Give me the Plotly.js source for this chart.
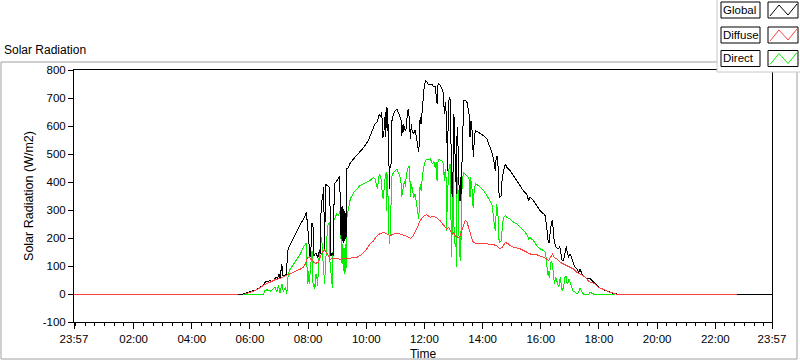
<!DOCTYPE html>
<html><head><meta charset="utf-8">
<script src="https://cdn.plot.ly/plotly-3.0.1.min.js"></script>
<style>html,body{margin:0;padding:0;background:#fff}#chart{width:800px;height:361px}
#chart .scatterlayer path.js-line{shape-rendering:crispEdges}</style>
</head><body><div id="chart"></div>
<script>
// time in minutes after midnight (-3 = 23:57 of the previous day), value in W/m2
const tickTimes = [-3,120,240,360,480,600,720,840,960,1080,1200,1320,1437];
const tickLabels = ['23:57','02:00','04:00','06:00','08:00','10:00','12:00','14:00','16:00','18:00','20:00','22:00','23:57'];
const yTickVals = [-100,0,100,200,300,400,500,600,700,800];
const yTickLabels = ['-100','0','100','200','300','400','500','600','700','800'];
const seriesNames = ['Global','Diffuse','Direct'];
const seriesColors = ['#000000','#ff4040','#00f000'];

const globalData = [[-3,0],[346,0],[360,8],[373,15],[387,32],[393,46],[397,44],[402,49],[406,44],[410,51],[414,59],[417,55],[420,71],[422,59],[426,107],[427,65],[430,65],[435,69],[438,155],[441,169],[457,226],[474,280],[476,291],[478,262],[480,205],[482,155],[484,133],[486,169],[488,255],[490,244],[492,137],[496,147],[500,130],[503,155],[505,144],[507,326],[510,344],[512,383],[514,155],[516,394],[519,387],[523,383],[525,333],[527,137],[530,147],[532,137],[534,394],[538,401],[542,412],[545,419],[547,280],[548,197],[550,315],[551,190],[552,305],[554,183],[555,297],[556,190],[558,290],[559,205],[560,447],[563,451],[567,469],[581,497],[594,522],[604,547],[611,577],[615,601],[618,608],[622,613],[627,643],[630,631],[632,649],[634,559],[636,565],[638,631],[639,559],[641,666],[643,583],[644,666],[646,476],[648,375],[649,452],[651,464],[653,619],[656,643],[660,655],[663,661],[666,649],[670,631],[672,619],[673,565],[676,607],[677,577],[678,601],[680,583],[682,589],[685,649],[687,661],[689,619],[691,553],[693,607],[694,589],[697,571],[701,586],[703,565],[706,518],[708,506],[710,559],[711,631],[713,607],[715,649],[717,690],[718,726],[720,750],[723,762],[726,756],[728,747],[732,750],[736,747],[739,740],[742,744],[746,680],[747,738],[749,752],[753,744],[756,732],[759,720],[761,644],[763,684],[765,643],[766,559],[768,440],[769,680],[772,702],[773,696],[775,512],[777,345],[779,440],[780,643],[781,631],[783,500],[786,357],[787,559],[788,595],[790,488],[792,333],[794,416],[795,333],[797,440],[799,595],[801,690],[804,693],[808,684],[811,655],[813,631],[814,559],[816,619],[818,589],[819,524],[821,488],[823,559],[825,583],[832,577],[842,565],[849,553],[856,524],[859,506],[863,476],[865,452],[866,440],[868,488],[870,494],[872,452],[873,369],[875,345],[878,351],[880,405],[883,440],[887,464],[890,452],[897,440],[904,422],[911,405],[918,387],[924,369],[931,357],[935,333],[937,345],[938,345],[945,333],[952,315],[959,297],[966,286],[969,280],[973,226],[975,190],[977,184],[980,226],[982,256],[984,262],[986,226],[988,184],[992,166],[997,161],[999,172],[1002,143],[1004,119],[1007,119],[1011,149],[1013,172],[1014,155],[1017,131],[1021,143],[1024,125],[1028,107],[1031,95],[1035,89],[1038,77],[1041,89],[1045,71],[1048,65],[1055,54],[1062,54],[1066,47],[1069,41],[1076,30],[1083,21],[1090,14],[1097,11],[1103,6],[1110,2],[1117,0],[1437,0]];

const diffuseData = [[-3,-2],[335,-2],[342,null],[350,0],[360,7],[373,14],[387,30],[402,42],[412,51],[422,56],[433,64],[443,74],[455,81],[464,89],[470,95],[474,107],[479,130],[482,133],[485,124],[488,126],[492,112],[496,110],[501,113],[505,133],[509,149],[514,157],[519,147],[522,137],[525,124],[536,128],[546,124],[556,126],[567,128],[581,131],[587,137],[594,147],[601,161],[608,179],[615,190],[622,208],[629,216],[636,220],[643,214],[649,208],[656,214],[663,218],[670,214],[677,211],[684,206],[691,199],[697,208],[704,232],[711,262],[718,277],[725,283],[732,274],[739,277],[746,271],[752,262],[759,247],[766,232],[770,238],[773,226],[777,214],[780,220],[783,208],[787,205],[790,202],[794,208],[797,226],[801,250],[804,264],[808,256],[811,238],[814,214],[818,196],[821,184],[825,181],[835,179],[849,179],[863,176],[869,172],[876,161],[880,166],[887,184],[893,179],[900,169],[911,164],[918,161],[925,155],[931,149],[938,143],[952,140],[962,133],[969,129],[976,119],[981,137],[984,143],[988,131],[993,125],[1000,113],[1007,107],[1014,101],[1021,95],[1028,89],[1035,77],[1041,71],[1048,65],[1055,54],[1059,44],[1066,41],[1072,36],[1079,24],[1086,18],[1093,12],[1103,6],[1114,1],[1120,-2],[1365,-2]];

const directData = [[346,0],[388,0],[391,12],[395,15],[402,10],[406,15],[412,24],[415,6],[419,30],[422,5],[426,36],[429,8],[433,24],[436,1],[439,71],[443,89],[450,107],[457,125],[464,143],[470,166],[474,179],[476,183],[477,131],[479,36],[481,83],[482,36],[484,72],[486,131],[488,155],[490,41],[491,24],[493,36],[494,19],[496,71],[498,59],[500,30],[501,107],[505,166],[507,190],[508,202],[510,137],[512,83],[514,36],[515,71],[517,155],[519,226],[520,244],[522,250],[524,256],[525,119],[527,65],[530,22],[531,83],[532,262],[536,274],[539,286],[543,280],[546,297],[548,190],[550,107],[551,179],[553,83],[554,166],[556,71],[557,179],[558,77],[560,274],[563,309],[567,339],[574,363],[581,375],[587,387],[594,393],[601,399],[608,405],[611,411],[615,416],[618,411],[622,387],[623,375],[625,405],[627,429],[630,416],[632,381],[634,345],[636,339],[637,393],[639,416],[641,434],[642,297],[644,429],[646,238],[648,179],[649,214],[651,345],[653,422],[656,434],[660,440],[663,446],[666,434],[670,416],[672,393],[673,345],[675,369],[677,387],[679,405],[681,381],[682,411],[685,446],[688,458],[690,416],[691,345],[693,393],[695,369],[698,345],[701,357],[703,333],[706,297],[708,268],[710,321],[711,393],[713,369],[715,416],[718,452],[722,476],[725,482],[728,479],[732,482],[737,464],[739,476],[742,452],[744,470],[746,405],[747,464],[749,479],[752,479],[756,476],[759,464],[761,405],[763,446],[765,405],[766,226],[767,345],[770,440],[771,458],[773,464],[774,250],[776,131],[777,226],[779,440],[780,405],[781,238],[783,179],[785,179],[786,95],[787,345],[788,416],[790,345],[792,131],[794,226],[795,119],[796,286],[798,405],[801,434],[804,429],[808,422],[811,416],[813,405],[814,345],[815,416],[818,381],[819,321],[821,309],[822,357],[825,393],[832,387],[842,369],[849,351],[856,333],[859,321],[861,297],[862,274],[864,250],[866,226],[868,309],[869,321],[872,274],[873,202],[875,184],[878,190],[880,226],[883,274],[887,280],[890,274],[897,268],[904,256],[911,250],[918,238],[924,226],[931,214],[935,196],[937,202],[938,202],[945,190],[952,172],[959,161],[966,155],[969,149],[971,131],[973,95],[975,65],[976,83],[978,59],[980,107],[982,119],[984,107],[986,59],[988,36],[991,59],[993,47],[997,24],[999,41],[1000,59],[1002,36],[1004,12],[1007,24],[1009,41],[1010,59],[1013,65],[1014,41],[1016,36],[1018,54],[1021,41],[1023,24],[1026,12],[1031,6],[1035,0],[1038,6],[1041,21],[1045,6],[1048,0],[1059,0],[1062,6],[1069,0],[1114,0]];

// ---- layout helpers (page pixels -> paper fractions) ----
const L = 74, R = 772, T = 70, B = 322;
const px = x => (x - L) / (R - L);
const py = y => (B - y) / (B - T);
const FONT = 'Liberation Sans, Arial, sans-serif';

function mk(data, name, color) {
  return {x: data.map(d => d[0]), y: data.map(d => d[1]), name, type: 'scatter', mode: 'lines',
    line: {color, width: 1}, connectgaps: false, hoverinfo: 'x+y'};
}
const traces = [
  mk(directData, seriesNames[2], seriesColors[2]),
  mk(globalData, seriesNames[0], seriesColors[0]),
  mk(diffuseData, seriesNames[1], seriesColors[1])
];

const shapes = [];
const annotations = [];
function line(x0, y0, x1, y1, color) {
  shapes.push({type: 'line', xref: 'paper', yref: 'paper', x0: px(x0), y0: py(y0), x1: px(x1), y1: py(y1),
    line: {color, width: 1}, layer: 'above'});
}
function rect(x0, y0, x1, y1, lineColor, fill) {
  shapes.push({type: 'rect', xref: 'paper', yref: 'paper', x0: px(x0), y0: py(y0), x1: px(x1), y1: py(y1),
    line: {color: lineColor, width: 1}, fillcolor: fill, layer: 'above'});
}
// outer panel frame
line(1, 62, 1, 359, '#a0a0a0');
line(1, 359, 797, 359, '#a0a0a0');
line(797, 359, 797, 72, '#a0a0a0');
line(1, 62, 717, 62, '#a0a0a0');
// legend panel
rect(717, -2, 802, 72, '#c8c8c8', '#ffffff');
const legendRows = [10, 35, 58.5];
seriesNames.forEach((name, i) => {
  const cy = legendRows[i];
  rect(721, cy - 8, 760, cy + 8, '#000000', '#ffffff');
  rect(768, cy - 8, 798, cy + 8, '#000000', '#ffffff');
  const path = 'M' + px(770) + ',' + py(cy + 6) + ' L' + px(779) + ',' + py(cy - 5) +
               ' L' + px(788) + ',' + py(cy + 5) + ' L' + px(797) + ',' + py(cy - 6);
  shapes.push({type: 'path', xref: 'paper', yref: 'paper', path, line: {color: seriesColors[i], width: 1}, layer: 'above'});
  annotations.push({xref: 'paper', yref: 'paper', x: px(722), y: py(cy), xanchor: 'left', yanchor: 'middle',
    text: name, showarrow: false, borderpad: 0, font: {family: FONT, size: 11.5, color: '#000'}});
});

const layout = {
  width: 800, height: 361,
  margin: {l: L, r: 800 - R, t: T, b: 361 - B, pad: 0},
  paper_bgcolor: '#ffffff', plot_bgcolor: '#ffffff',
  showlegend: false,
  font: {family: FONT, size: 11, color: '#000'},
  title: {text: 'Solar Radiation', x: 4 / 800, xanchor: 'left', xref: 'container',
    y: 1 - 50 / 361, yanchor: 'middle', yref: 'container', font: {family: FONT, size: 12, color: '#000'}},
  xaxis: {
    type: 'linear', range: [-3, 1437], tickmode: 'array', tickvals: tickTimes, ticktext: tickLabels,
    ticks: 'outside', ticklen: 6, tickcolor: '#000', tickfont: {family: FONT, size: 11.5, color: '#000'},
    minor: {dtick: 20, tick0: 0, ticks: 'outside', ticklen: 3, tickcolor: '#000', showgrid: false},
    showgrid: false, zeroline: false, showline: true, linecolor: '#000', linewidth: 1, mirror: true,
    title: {text: 'Time', standoff: 6, font: {family: FONT, size: 12, color: '#000'}}
  },
  yaxis: {
    range: [-100, 800], tickmode: 'array', tickvals: yTickVals, ticktext: yTickLabels,
    ticks: 'outside', ticklen: 5, tickcolor: '#000',
    tickfont: {family: FONT, size: 11.5, color: '#000'},
    showgrid: false, zeroline: false, showline: true, linecolor: '#000', linewidth: 1, mirror: true,
    title: {text: 'Solar Radiation (W/m2)', standoff: 6, font: {family: FONT, size: 12.5, color: '#000'}}
  },
  shapes, annotations
};
Plotly.newPlot('chart', traces, layout, {displayModeBar: false, staticPlot: true});
</script></body></html>
